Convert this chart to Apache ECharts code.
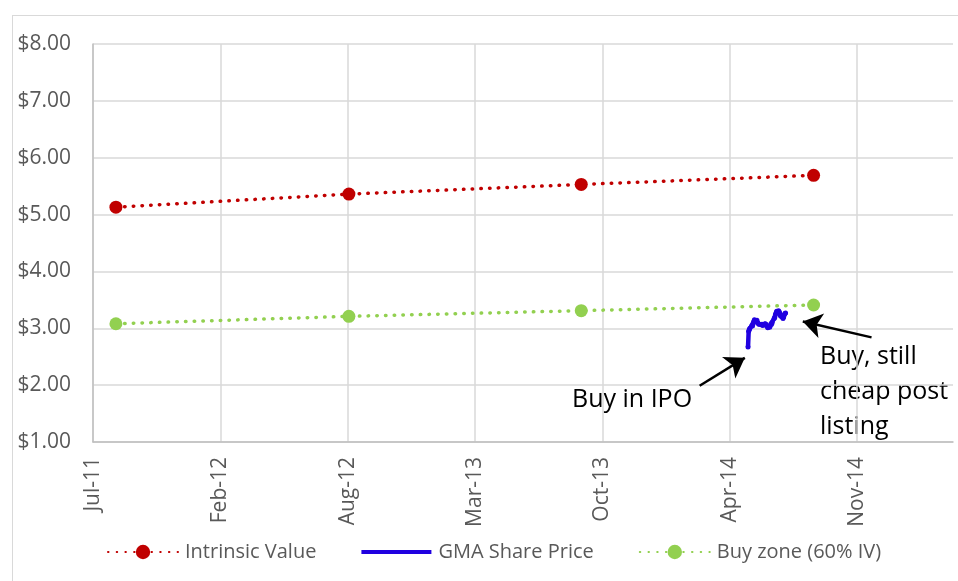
<!DOCTYPE html>
<html>
<head>
<meta charset="utf-8">
<script src="https://cdn.jsdelivr.net/npm/echarts@6/dist/echarts.min.js"></script>
<style>
  html, body { margin: 0; padding: 0; background: #fff; overflow: hidden; }
  #frame { position: absolute; left: 12px; top: 15px; width: 1000px; height: 1000px; border: 1px solid #d9d9d9; }
  #chart { position: absolute; left: 0; top: 0; width: 958px; height: 581px; }
</style>
</head>
<body>
<div id="frame"></div>
<div id="chart"></div>
<script>
// x axis is counted in days from the axis start (Excel date axis, major unit 200 days)
const AXIS_START = '2011-07-26';
const AXIS_DAYS = 1351;
const TICK_DAYS = 200;
const MONTHS = ['Jan', 'Feb', 'Mar', 'Apr', 'May', 'Jun', 'Jul', 'Aug', 'Sep', 'Oct', 'Nov', 'Dec'];

const ivDates = ['2011-08-31', '2012-08-31', '2013-08-31', '2014-08-31'];
const ivValues = [5.13, 5.36, 5.53, 5.69];
const buyValues = [3.08, 3.21, 3.31, 3.41];

const priceDates = [
    '2014-05-20', '2014-05-21', '2014-05-22', '2014-05-23', '2014-05-26', '2014-05-27', '2014-05-28',
    '2014-05-29', '2014-05-30', '2014-06-02', '2014-06-03', '2014-06-04', '2014-06-05', '2014-06-06',
    '2014-06-10', '2014-06-11', '2014-06-12', '2014-06-13', '2014-06-16', '2014-06-17', '2014-06-18',
    '2014-06-19', '2014-06-20', '2014-06-23', '2014-06-24', '2014-06-25', '2014-06-26', '2014-06-27',
    '2014-06-30', '2014-07-01', '2014-07-02', '2014-07-03', '2014-07-04', '2014-07-07', '2014-07-08',
    '2014-07-09', '2014-07-10', '2014-07-11', '2014-07-14', '2014-07-15', '2014-07-16', '2014-07-17',
    '2014-07-18'
];
const priceValues = [
    2.67, 2.95, 2.98, 3.00, 3.05, 3.04, 3.08,
    3.12, 3.15, 3.12, 3.14, 3.10, 3.09, 3.07,
    3.06, 3.07, 3.05, 3.06, 3.08, 3.07, 3.05,
    3.03, 3.01, 3.02, 3.05, 3.08, 3.07, 3.10,
    3.17, 3.19, 3.24, 3.27, 3.30, 3.31, 3.29,
    3.26, 3.22, 3.21, 3.17, 3.20, 3.24, 3.26,
    3.27
];

// annotation arrows: [tail date, tail value, head date, head value]
const arrows = [
    ['2014-03-05', 1.99, '2014-05-15', 2.48],
    ['2014-11-30', 2.84, '2014-08-14', 3.12]
];

const dayOf = (s) => (Date.parse(s) - Date.parse(AXIS_START)) / 86400000;
const pairs = (dates, vals) => dates.map((d, i) => [dayOf(d), vals[i]]);

const FONT = '"Open Sans", "Noto Sans", sans-serif';
const GREY = '#595959';
const BLUE = '#2000e0';

const chart = echarts.init(document.getElementById('chart'));

const dotted = (color) => ({ color: color, width: 3.5, type: [0.5, 8.2], cap: 'round' });

chart.setOption({
    animation: false,
    backgroundColor: 'transparent',
    textStyle: { fontFamily: FONT },
    grid: { left: 93, right: 5, top: 44, bottom: 139 },
    legend: {
        left: 102,
        top: 537,
        itemWidth: 70,
        itemHeight: 18,
        itemGap: 45,
        data: [
            'Intrinsic Value',
            { name: 'GMA Share Price', icon: 'path://M0,0h70v4h-70z' },
            'Buy zone (60% IV)'
        ],
        textStyle: { fontSize: 20, color: GREY, fontFamily: FONT, padding: [0, 0, 0, 2] }
    },
    xAxis: {
        type: 'value',
        min: 0,
        max: AXIS_DAYS,
        interval: TICK_DAYS,
        axisLine: { show: true, lineStyle: { color: '#bfbfbf', width: 1.5 } },
        axisTick: { show: false },
        splitLine: { show: true, showMaxLine: false, lineStyle: { color: '#d9d9d9', width: 1.5 } },
        axisLabel: {
            rotate: 90,
            margin: 15,
            fontSize: 21,
            color: GREY,
            fontFamily: FONT,
            showMaxLabel: false,
            formatter: (v) => {
                if (v % TICK_DAYS !== 0) return '';
                const d = new Date(Date.parse(AXIS_START) + v * 86400000);
                return MONTHS[d.getUTCMonth()] + '-' + String(d.getUTCFullYear()).slice(2);
            }
        }
    },
    yAxis: {
        type: 'value',
        min: 1,
        max: 8,
        interval: 1,
        axisLine: { show: true, lineStyle: { color: '#bfbfbf', width: 1.5 } },
        axisTick: { show: false },
        splitLine: { show: true, lineStyle: { color: '#d9d9d9', width: 1.5 } },
        axisLabel: {
            margin: 22,
            fontSize: 21,
            color: GREY,
            fontFamily: FONT,
            formatter: (v) => '$' + v.toFixed(2)
        }
    },
    series: [
        {
            name: 'Intrinsic Value',
            type: 'line',
            data: pairs(ivDates, ivValues),
            symbol: 'circle',
            symbolSize: 13,
            itemStyle: { color: '#c00000' },
            lineStyle: dotted('#c00000'),
            z: 3
        },
        {
            name: 'GMA Share Price',
            type: 'line',
            data: pairs(priceDates, priceValues),
            symbol: 'circle',
            symbolSize: 5,
            itemStyle: { color: BLUE },
            lineStyle: { color: BLUE, width: 4.5 },
            z: 4,
            markLine: {
                silent: true,
                symbol: ['none', 'arrow'],
                symbolSize: 19,
                label: { show: false },
                lineStyle: { color: '#000', width: 2.5, type: 'solid' },
                emphasis: { disabled: true },
                data: arrows.map((a) => [
                    { coord: [dayOf(a[0]), a[1]] },
                    { coord: [dayOf(a[2]), a[3]] }
                ])
            }
        },
        {
            name: 'Buy zone (60% IV)',
            type: 'line',
            data: pairs(ivDates, buyValues),
            symbol: 'circle',
            symbolSize: 13,
            itemStyle: { color: '#92d050' },
            lineStyle: dotted('#92d050'),
            z: 3
        }
    ],
    graphic: [
        { type: 'text', left: 572, top: 387, style: { text: 'Buy in IPO', font: '25px ' + FONT, fill: '#000' } },
        { type: 'text', left: 820, top: 344, style: { text: 'Buy, still', font: '25px ' + FONT, fill: '#000' } },
        { type: 'text', left: 820, top: 379, style: { text: 'cheap post', font: '25px ' + FONT, fill: '#000' } },
        { type: 'text', left: 820, top: 414, style: { text: 'listing', font: '25px ' + FONT, fill: '#000' } }
    ]
});

window.addEventListener('resize', () => chart.resize());
</script>
</body>
</html>
